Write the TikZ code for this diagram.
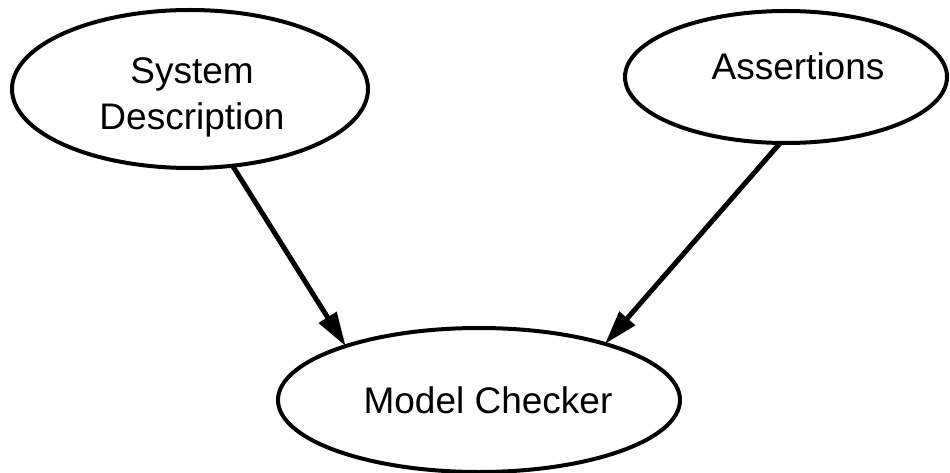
\documentclass[tikz,border=0pt]{standalone}
\usepackage{fontspec}
\setmainfont{Liberation Sans}
\usetikzlibrary{shapes.geometric,arrows.meta}
\begin{document}
\begin{tikzpicture}[x=1pt,y=-1pt,
  bubble/.style={ellipse,draw=black,line width=4pt,inner sep=0pt,outer sep=0pt},
  caption/.style={font=\fontsize{37}{46}\selectfont,align=center,inner sep=0pt},
  flow/.style={line width=5pt,-{Triangle[length=34pt,width=20pt]}}]
  \useasboundingbox (0,0) rectangle (950,473);

  % ellipses
  \node[bubble,minimum width=356pt,minimum height=158pt] (sd) at (190,89) {};
  \node[bubble,minimum width=322pt,minimum height=132pt] (as) at (786,77) {};
  \node[bubble,minimum width=402pt,minimum height=144pt] (mc) at (479,400) {};

  % labels
  \node[caption] (sdt) at (192,97) {System\\Description};
  \node[caption] (ast) at (798,66) {Assertions};
  \node[caption] (mct) at (488,400) {Model Checker};

  % connectors
  \draw[flow] (sd.-61.4) -- (mc.158.9);
  \draw[flow] (as.-95) -- (mc.24.3);
\end{tikzpicture}
\end{document}
